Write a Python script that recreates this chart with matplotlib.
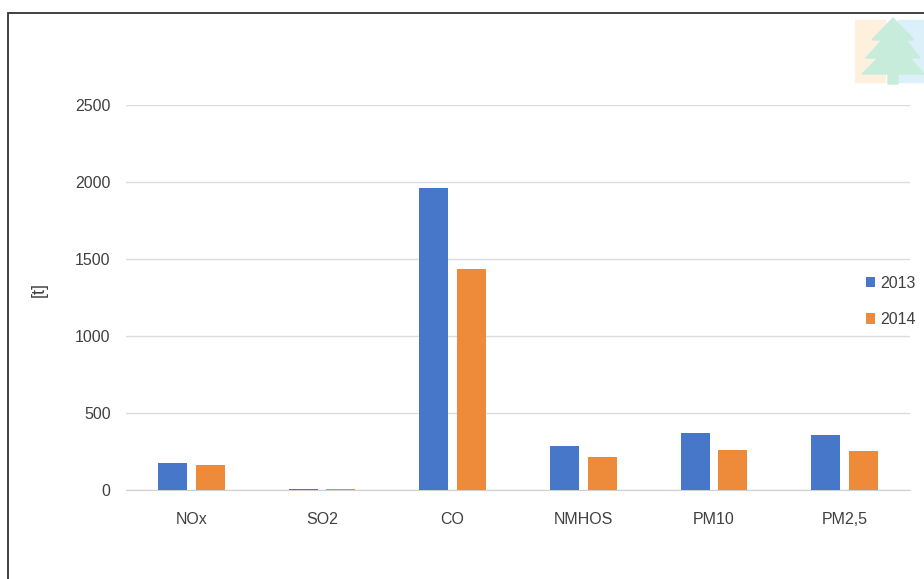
import matplotlib.pyplot as plt
import numpy as np
from matplotlib.patches import Rectangle, Polygon

categories = ['NOx', 'SO2', 'CO', 'NMHOS', 'PM10', 'PM2,5']
vals_2013 = [175, 5, 1961, 286, 370, 357]
vals_2014 = [162, 5, 1435, 214, 260, 253]
yticks = [0, 500, 1000, 1500, 2000, 2500]

plt.rcParams['font.family'] = ['Liberation Sans', 'DejaVu Sans']

fig = plt.figure(figsize=(9.24, 5.79), dpi=100)
W, H = 924, 579

# outer frame (cut off at right and bottom)
fig.patches.append(Rectangle((8 / W, -0.05), 1.1, 1 - 13 / H + 0.05,
                             transform=fig.transFigure, fill=False,
                             edgecolor='#333333', linewidth=1.3))

# faint logo top right
logo = [
    Rectangle((855 / W, 1 - 82 / H), 30 / W, 62 / H, color='#fdf0dc'),
    Rectangle((898 / W, 1 - 82 / H), 26 / W, 62 / H, color='#dcf0f9'),
]
tree = [(893, 18), (872, 40), (882, 40), (866, 58), (878, 58), (862, 74),
        (888, 74), (888, 84), (898, 84), (898, 74), (924, 74), (910, 58),
        (920, 58), (906, 40), (914, 40)]
logo.append(Polygon([(x / W, 1 - y / H) for x, y in tree], closed=True,
                    color='#c8ecdb'))
for p in logo:
    p.set_transform(fig.transFigure)
    fig.patches.append(p)

ax = fig.add_axes([126 / W, 1 - 490 / H, 784 / W, 385 / H])

x = np.arange(len(categories))
w = 0.222
off = 0.145
ax.bar(x - off, vals_2013, w, color='#4677C8', label='2013', zorder=3)
ax.bar(x + off, vals_2014, w, color='#EE8B3A', label='2014', zorder=3)

ax.set_xlim(-0.5, len(categories) - 0.5)
ax.set_ylim(0, 2500)
ax.set_yticks(yticks)
ax.set_xticks(x)
ax.set_xticklabels(categories)
ax.tick_params(axis='both', length=0, labelsize=11.5, colors='#404040')
ax.tick_params(axis='y', pad=11)
ax.tick_params(axis='x', pad=16)
ax.grid(axis='y', color='#dcdcdc', linewidth=1, zorder=0)
for s in ['top', 'right', 'left']:
    ax.spines[s].set_visible(False)
ax.spines['bottom'].set_color('#d0d0d0')
ax.set_ylabel('[t]', fontsize=13, color='#404040')
ax.yaxis.set_label_coords(-0.10, 0.52)

ax.legend(loc='center left', bbox_to_anchor=(0.925, 0.49), frameon=False,
          fontsize=11.5, handlelength=0.6, handleheight=0.6,
          labelspacing=1.35, handletextpad=0.3, labelcolor='#404040')

fig.savefig('out.png', dpi=100, facecolor='white')
